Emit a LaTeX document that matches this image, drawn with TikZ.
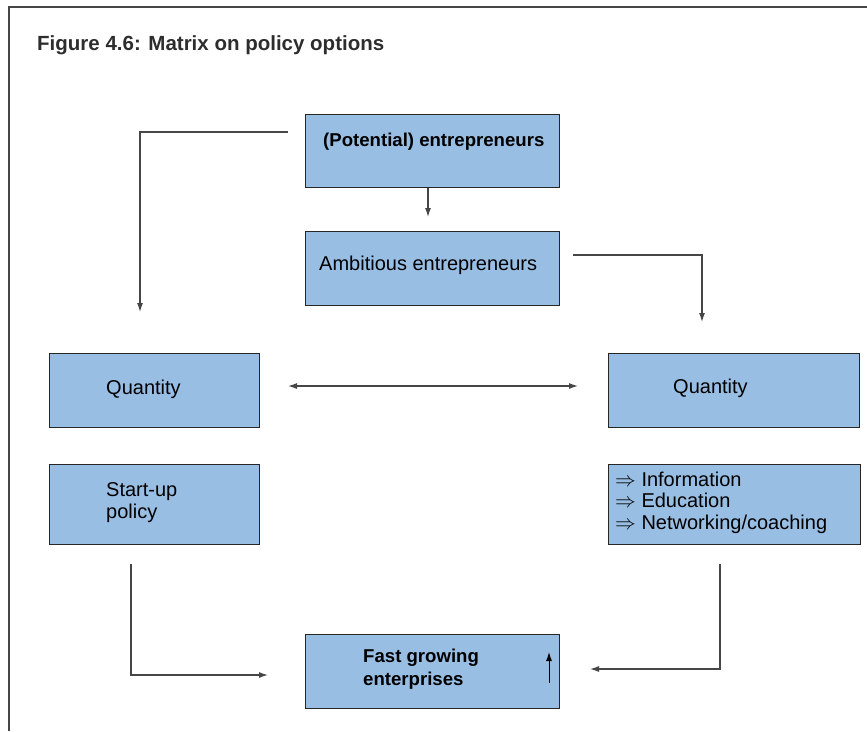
\documentclass[tikz,border=0pt]{standalone}
\usepackage{fontspec}
\setmainfont{Liberation Sans}
\usetikzlibrary{arrows.meta}
\definecolor{boxblue}{RGB}{153,190,228}
\definecolor{linegray}{RGB}{70,70,70}
\definecolor{titlegray}{RGB}{45,45,45}

\begin{document}
\begin{tikzpicture}[x=1pt,y=-1pt,
    box/.style={draw=black!85, fill=boxblue, line width=0.9pt, inner sep=0pt, anchor=north west},
    boxtext/.style={anchor=base west, inner sep=0pt, align=left, font=\fontsize{20}{22}\selectfont},
    boldtext/.style={boxtext, font=\fontsize{18.6}{23}\selectfont\bfseries},
    conn/.style={draw=linegray, line width=1.2pt, -{Latex[length=9pt,width=6pt]}}]

\useasboundingbox (0,0) rectangle (867,731);

% Frame
\draw[linegray, line width=1.3pt] (867,7) -- (9,7) -- (9,731);

% Title
\node[anchor=base west, inner sep=0pt, text=titlegray, font=\fontsize{20.5}{24}\selectfont\bfseries] (title) at (37,50) {Figure 4.6: Matrix on policy options};

% Boxes
\node[box, minimum width=254pt, minimum height=73pt] (pot) at (305,114) {};
\node[box, minimum width=254pt, minimum height=74pt] (amb) at (305,231) {};
\node[box, minimum width=210pt, minimum height=74pt] (qleft) at (49,353) {};
\node[box, minimum width=251pt, minimum height=74pt] (qright) at (608,353) {};
\node[box, minimum width=210pt, minimum height=80pt] (start) at (49,464) {};
\node[box, minimum width=252pt, minimum height=80pt] (info) at (608,464) {};
\node[box, minimum width=254pt, minimum height=74pt] (fast) at (305,634) {};

% Box texts (multi-line ones sit on their last baseline)
\node[boldtext] (potT) at (323,146) {(Potential) entrepreneurs};
\node[boxtext] (ambT) at (319,270) {Ambitious entrepreneurs};
\node[boxtext] (qleftT) at (106,394) {Quantity};
\node[boxtext] (qrightT) at (673,393) {Quantity};
\node[boxtext] (startT) at (106,518) {Start-up\\policy};
\node[boxtext, font=\fontsize{20}{21.5}\selectfont] (infoT) at (615,529) {$\Rightarrow$ Information\\$\Rightarrow$ Education\\$\Rightarrow$ Networking/coaching};
\node[boldtext] (fastT) at (363,685) {Fast growing\\enterprises};

% Connector ends
\coordinate (potL) at (288,132);
\coordinate (qleftIn) at (140,312);
\coordinate (ambIn) at (428,217);
\coordinate (ambR) at (573,255);
\coordinate (qrightIn) at (702,322);
\coordinate (qleftR) at (288,386);
\coordinate (qrightL) at (578,386);
\coordinate (startOut) at (131,564);
\coordinate (fastL) at (268,675);
\coordinate (infoOut) at (720,564);
\coordinate (fastR) at (590,669);
\coordinate (growLow) at (549,683);
\coordinate (growHigh) at (549,652);

% Connectors
\draw[conn] (potL) -| (qleftIn);
\draw[conn] (pot.south -| ambIn) -- (ambIn);
\draw[conn] (ambR) -| (qrightIn);
\draw[conn, {Latex[length=9pt,width=6pt]}-{Latex[length=9pt,width=6pt]}] (qleftR) -- (qrightL);
\draw[conn] (startOut) |- (fastL);
\draw[conn] (infoOut) |- (fastR);
\draw[conn, draw=black, line width=1pt] (growLow) -- (growHigh);

\end{tikzpicture}
\end{document}
